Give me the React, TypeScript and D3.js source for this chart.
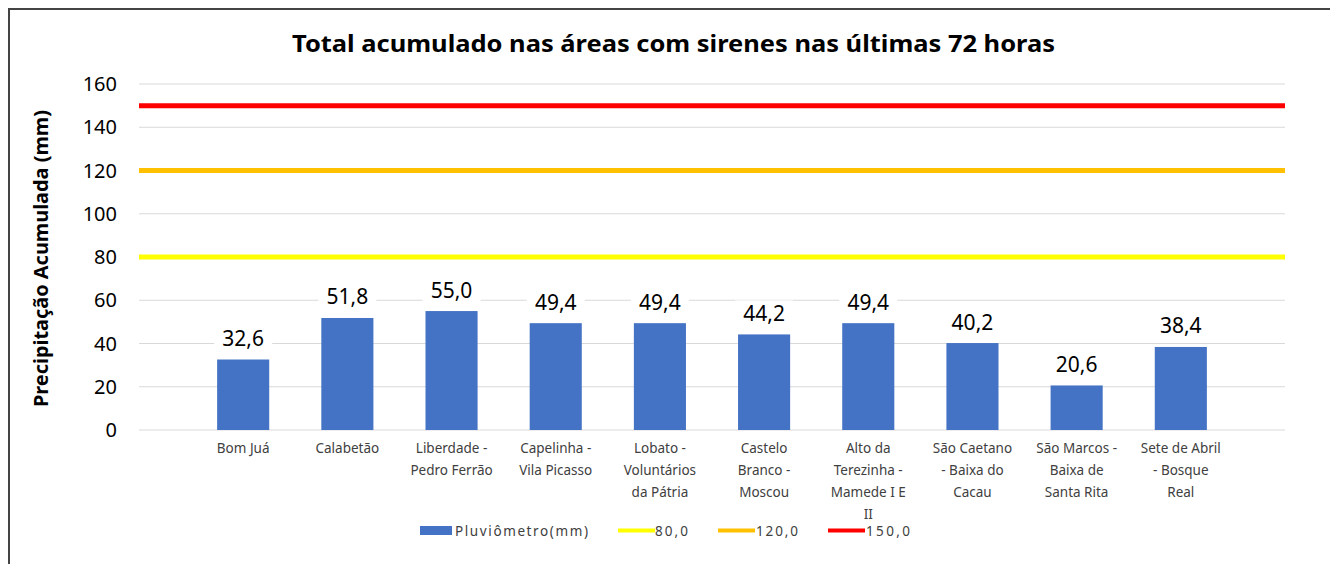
import React from "react";
import * as d3 from "d3";

const title = "Total acumulado nas áreas com sirenes nas últimas 72 horas";
const yAxisTitle = "Precipitação Acumulada (mm)";
const categories = [
  "Bom Juá",
  "Calabetão",
  "Liberdade - Pedro Ferrão",
  "Capelinha - Vila Picasso",
  "Lobato - Voluntários da Pátria",
  "Castelo Branco - Moscou",
  "Alto da Terezinha - Mamede I E II",
  "São Caetano - Baixa do Cacau",
  "São Marcos - Baixa de Santa Rita",
  "Sete de Abril - Bosque Real",
];
const labelLines = [
  ["Bom Juá"],
  ["Calabetão"],
  ["Liberdade -", "Pedro Ferrão"],
  ["Capelinha -", "Vila Picasso"],
  ["Lobato -", "Voluntários", "da Pátria"],
  ["Castelo", "Branco -", "Moscou"],
  ["Alto da", "Terezinha -", "Mamede I E", "II"],
  ["São Caetano", "- Baixa do", "Cacau"],
  ["São Marcos -", "Baixa de", "Santa Rita"],
  ["Sete de Abril", "- Bosque", "Real"],
];
const values = [32.6, 51.8, 55.0, 49.4, 49.4, 44.2, 49.4, 40.2, 20.6, 38.4];
const thresholds = [80, 120, 150];
const thresholdColors = ["#FFFF00", "#FFC000", "#FF0000"];
const seriesName = "Pluviômetro(mm)";
const yTicks = [0, 20, 40, 60, 80, 100, 120, 140, 160];

const fmt = (v: number) => v.toFixed(1).replace(".", ",");

export default function App() {
  const W = 1330;
  const H = 564;
  const left = 139;
  const right = 1285;
  const top = 84;
  const bottom = 430;

  const y = d3.scaleLinear().domain([0, 160]).range([bottom, top]);
  const x = d3
    .scalePoint<string>()
    .domain(["__start", ...categories, "__end"])
    .range([left, right])
    .padding(0);
  const step = x.step();
  const barW = step * 0.5;
  const font = "'Noto Sans', 'Open Sans', sans-serif";
  const textGray = "#404040";

  const legendItems = [
    { type: "rect", color: "#4472C4", label: seriesName, x: 420, tx: 455, tw: 133 },
    ...thresholds.map((t, i) => ({
      type: "line",
      color: thresholdColors[i],
      label: fmt(t),
      x: [618, 718, 828][i],
      tx: [655, 756, 866][i],
      tw: [33, 42, 44][i],
    })),
  ];

  return (
    <svg
      width={W}
      height={H}
      style={{ position: "absolute", left: 0, top: 0, background: "#fff" }}
      fontFamily={font}
    >
      <rect x={0} y={0} width={W} height={H} fill="#fff" />
      {/* border */}
      <line x1={8} x2={W} y1={9} y2={9} stroke="#444" strokeWidth={2} />
      <line x1={9} x2={9} y1={8} y2={H} stroke="#444" strokeWidth={2} />

      <text
        x={292}
        y={52}
        fontSize={23}
        fontWeight="bold"
        fill="#000"
        textLength={763}
        lengthAdjust="spacingAndGlyphs"
      >
        {title}
      </text>

      {/* gridlines */}
      {yTicks.map((t) => (
        <line
          key={t}
          x1={left}
          x2={right}
          y1={y(t)}
          y2={y(t)}
          stroke="#D9D9D9"
          strokeWidth={1.2}
        />
      ))}
      {yTicks.map((t) => (
        <text
          key={"l" + t}
          x={117}
          y={y(t) + 7}
          textAnchor="end"
          fontSize={20}
          fill="#000"
        >
          {t}
        </text>
      ))}
      <text
        transform={`translate(48, 407) rotate(-90)`}
        fontSize={19}
        fontWeight="bold"
        fill="#000"
        textLength={297}
        lengthAdjust="spacingAndGlyphs"
      >
        {yAxisTitle}
      </text>

      {/* threshold lines */}
      {thresholds.map((t, i) => (
        <line
          key={"th" + t}
          x1={left}
          x2={right}
          y1={y(t)}
          y2={y(t)}
          stroke={thresholdColors[i]}
          strokeWidth={5}
        />
      ))}

      {/* bars */}
      {categories.map((c, i) => {
        const cx = x(c)!;
        const v = values[i];
        return (
          <g key={c}>
            <rect
              x={cx - barW / 2}
              y={y(v)}
              width={barW}
              height={bottom - y(v)}
              fill="#4472C4"
            />
            <rect
              x={cx - 29}
              y={y(v) - 34}
              width={58}
              height={25}
              fill="#fff"
            />
            <text
              x={cx}
              y={y(v) - 13.5}
              textAnchor="middle"
              fontSize={21}
              fill="#000"
            >
              {fmt(v)}
            </text>
            {labelLines[i].map((ln, j) => (
              <text
                key={j}
                x={cx}
                y={452.5 + j * 22}
                textAnchor="middle"
                fontSize={13.5}
                fill={textGray}
              >
                {ln}
              </text>
            ))}
          </g>
        );
      })}

      {/* legend */}
      {legendItems.map((it) => (
        <g key={it.label}>
          {it.type === "rect" ? (
            <rect x={it.x} y={526} width={32} height={9} fill={it.color} />
          ) : (
            <line
              x1={it.x}
              x2={it.x + 37}
              y1={530.5}
              y2={530.5}
              stroke={it.color}
              strokeWidth={4}
            />
          )}
          <text
            x={it.tx}
            y={535.5}
            fontSize={13.5}
            fill={textGray}
            textLength={it.tw}
            lengthAdjust="spacing"
          >
            {it.label}
          </text>
        </g>
      ))}
    </svg>
  );
}
